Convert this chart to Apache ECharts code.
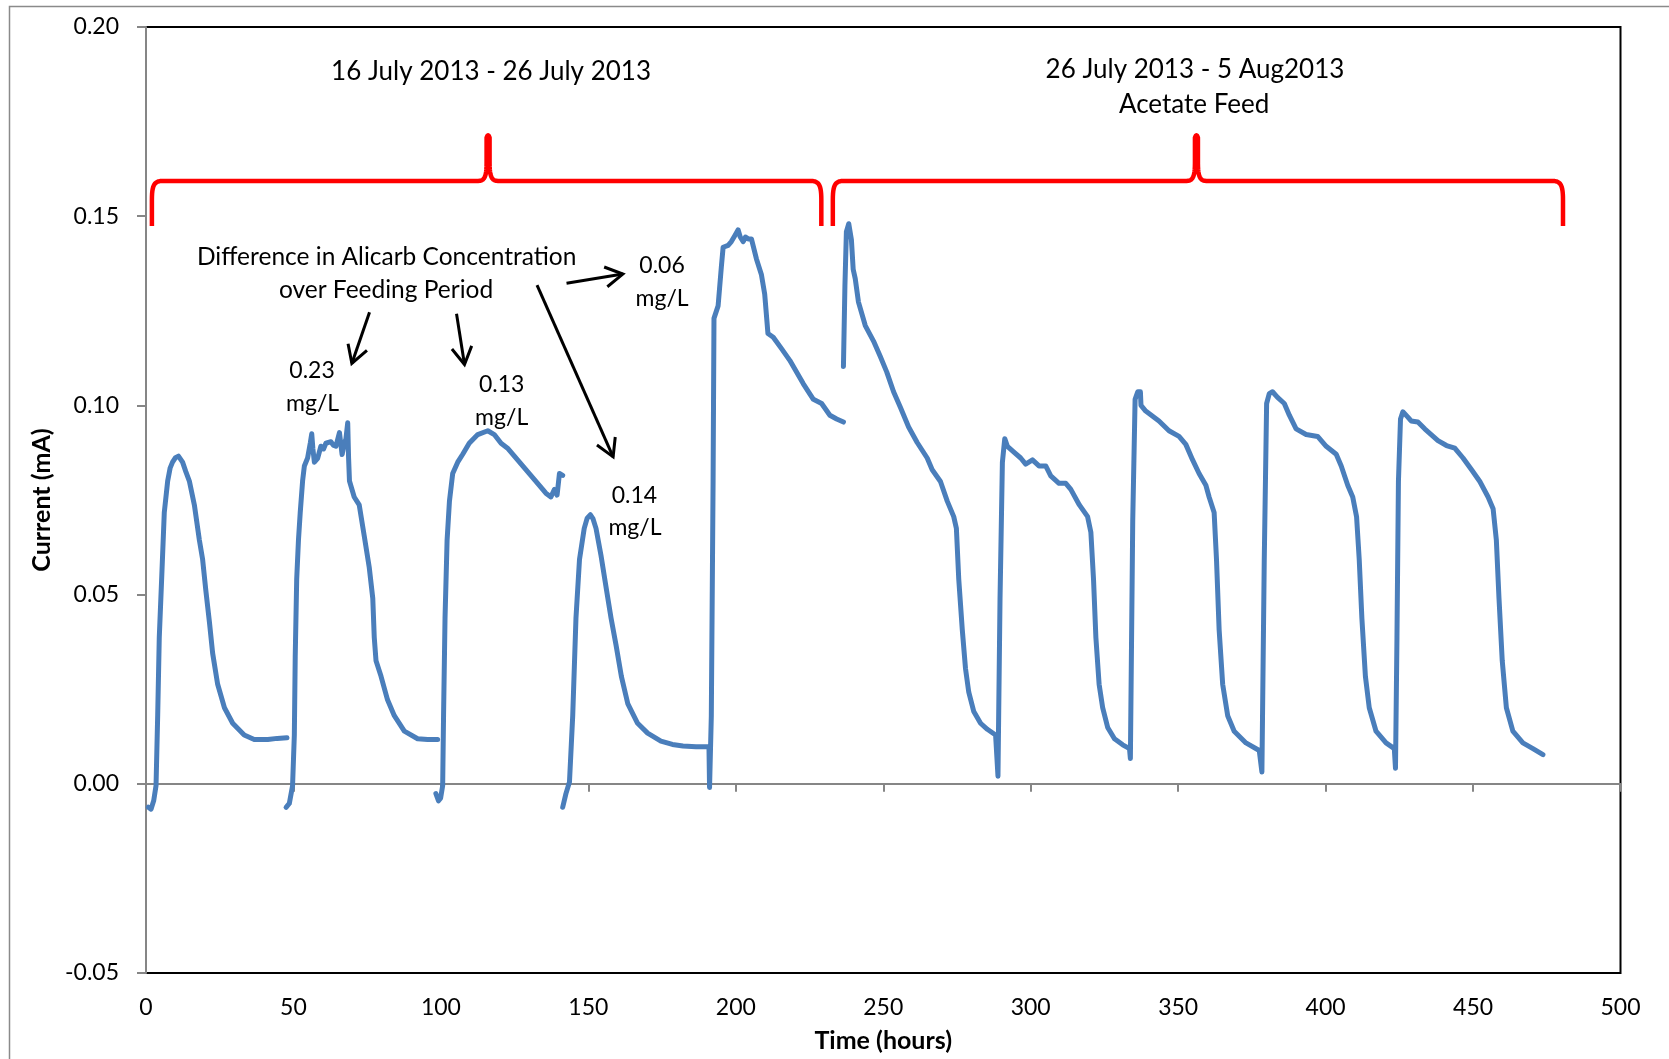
<!DOCTYPE html>
<html>
<head>
<meta charset="utf-8">
<script src="https://cdn.jsdelivr.net/npm/echarts@6/dist/echarts.min.js"></script>
<style>
  html, body { margin: 0; padding: 0; background: #fff; }
  #chart { width: 1669px; height: 1059px; }
</style>
</head>
<body>
<div id="chart"></div>
<script>
// Current (mA) against time (hours); one array per continuous logging run.
const run1 = [[0.8,-0.0062],[1.7,-0.0067],[2.6,-0.0045],[3.4,-0.0005],[3.96,0.018],[4.5,0.0387],[5.3,0.054],[6.2,0.0717],[7.35,0.080],[8.2,0.0835],[9.0,0.085],[10.0,0.0862],[11.0,0.0866],[12.4,0.085],[13.5,0.0825],[14.7,0.080],[16.4,0.0737],[18.1,0.0644],[19.2,0.0593],[20.3,0.051],[21.5,0.0428],[22.6,0.0345],[24.3,0.0263],[26.6,0.0201],[29.4,0.016],[33.3,0.0129],[36.7,0.0117],[41.3,0.0117],[44.5,0.0120],[47.8,0.0122]];

const run2 = [[47.5,-0.0062],[48.6,-0.0052],[49.7,-0.0005],[50.3,0.0129],[50.6,0.0335],[51.1,0.054],[51.7,0.0644],[52.3,0.0717],[53.1,0.080],[53.7,0.084],[54.8,0.0861],[55.7,0.090],[56.2,0.0925],[56.6,0.0885],[57.1,0.085],[58.2,0.086],[59.3,0.0892],[60.2,0.0885],[61.0,0.090],[62.7,0.0904],[63.5,0.0895],[64.4,0.0892],[65.6,0.0928],[66.5,0.087],[67.3,0.090],[67.8,0.0912],[68.4,0.0954],[68.7,0.086],[69.0,0.080],[70.6,0.0758],[72.3,0.0737],[74.0,0.0655],[75.7,0.0572],[76.9,0.049],[77.4,0.0387],[78.0,0.0325],[79.7,0.0284],[81.9,0.0222],[84.2,0.018],[87.6,0.0139],[92.1,0.0119],[95.5,0.0117],[98.9,0.0117]];

const run3 = [[98.3,-0.0026],[99.2,-0.0045],[99.9,-0.0038],[100.6,-0.0005],[100.9,0.018],[101.4,0.0438],[102.1,0.0644],[102.9,0.0747],[104.0,0.082],[105.7,0.085],[107.4,0.0871],[109.6,0.090],[112.5,0.0923],[115.9,0.0933],[118.1,0.0923],[120.4,0.090],[122.6,0.0887],[126.0,0.0856],[129.4,0.0825],[132.8,0.0794],[135.6,0.0768],[137.3,0.0758],[138.5,0.0778],[139.4,0.0763],[140.2,0.082],[141.3,0.0815]];

const run4 = [[141.3,-0.0062],[142.4,-0.0026],[143.6,0.0005],[144.7,0.018],[145.8,0.0438],[147.0,0.0593],[148.6,0.0675],[149.6,0.0702],[150.7,0.0711],[151.6,0.070],[152.6,0.0675],[154.3,0.0603],[156.0,0.052],[157.7,0.0438],[159.4,0.0366],[161.2,0.0284],[163.4,0.0211],[166.7,0.016],[170.1,0.0134],[174.6,0.0113],[178.5,0.0104],[182.1,0.010],[186.5,0.0098],[190.9,0.0098],[191.1,-0.001],[191.7,0.018],[192.3,0.080],[192.6,0.123],[194.0,0.1263],[195.1,0.1366],[195.7,0.1418],[197.4,0.1423],[198.5,0.1433],[199.7,0.1449],[200.8,0.1464],[201.5,0.1445],[202.5,0.1433],[203.3,0.1445],[204.2,0.144],[205.3,0.144],[207.0,0.1387],[208.7,0.1345],[209.8,0.1294],[210.9,0.119],[212.7,0.118],[215.5,0.115],[218.3,0.1119],[220.6,0.1088],[222.9,0.1057],[226.3,0.1016],[229.1,0.1005],[231.9,0.0974],[234.2,0.0964],[236.5,0.0956]];

const run5 = [[236.5,0.1103],[237.0,0.1315],[237.5,0.1459],[238.3,0.148],[239.2,0.1438],[239.8,0.136],[240.5,0.1335],[241.6,0.1273],[243.9,0.1211],[246.7,0.117],[249.0,0.1129],[251.2,0.1088],[253.5,0.1036],[255.8,0.0995],[258.6,0.0943],[261.5,0.0902],[264.9,0.0861],[266.6,0.083],[269.4,0.0799],[271.7,0.0747],[273.9,0.0706],[274.8,0.0675],[275.6,0.0541],[276.8,0.0407],[277.9,0.0304],[279.0,0.0242],[280.7,0.0191],[283.0,0.016],[285.3,0.0144],[288.1,0.0129],
  [288.9,0.002],[289.6,0.049],[290.4,0.085],[291.2,0.0912],[292.1,0.0892],[294.4,0.0876],[296.6,0.0861],[298.3,0.0845],[300.6,0.0856],[302.8,0.084],[305.1,0.084],[306.8,0.0814],[309.6,0.0794],[311.9,0.0794],[313.6,0.0778],[316.5,0.0737],[319.3,0.0706],[320.4,0.0665],[321.3,0.0541],[322.1,0.0387],[323.2,0.0263],[324.4,0.0201],[326.1,0.0149],[328.4,0.0119],[331.2,0.0103],[333.5,0.0093],
  [333.8,0.0067],[334.6,0.0696],[335.4,0.1016],[336.3,0.1036],[337.2,0.1036],[337.4,0.100],[339.0,0.0985],[343.5,0.0959],[346.9,0.0933],[350.3,0.0918],[352.6,0.0897],[354.9,0.0856],[357.1,0.082],[359.4,0.0789],[360.5,0.0758],[362.2,0.0717],[363.0,0.0593],[363.9,0.0407],[365.1,0.0263],[366.8,0.018],[369.0,0.0139],[373.0,0.0108],[377.5,0.0088],
  [378.4,0.0031],[379.2,0.0593],[380.0,0.1005],[380.9,0.1031],[382.0,0.1036],[383.7,0.1021],[386.0,0.1005],[387.7,0.0974],[390.0,0.0938],[393.4,0.0923],[397.3,0.0918],[400.2,0.0892],[403.6,0.0871],[405.3,0.084],[407.5,0.0789],[409.2,0.0758],[410.5,0.0706],[411.4,0.0593],[412.3,0.0438],[413.5,0.0284],[414.8,0.0201],[417.1,0.0139],[420.5,0.0108],[423.3,0.0093],
  [423.7,0.0041],[424.2,0.0387],[424.7,0.080],[425.4,0.0964],[426.2,0.0983],[427.9,0.0969],[429.0,0.0959],[431.3,0.0956],[433.6,0.0938],[435.8,0.0923],[438.1,0.0907],[441.0,0.0894],[443.8,0.0887],[446.6,0.0861],[449.5,0.083],[452.3,0.0799],[455.1,0.0758],[456.8,0.0727],[457.9,0.0644],[458.8,0.049],[459.9,0.0325],[461.3,0.0201],[463.5,0.0139],[466.9,0.0108],[470.3,0.0093],[473.7,0.0077]];

// Feeding-period annotations, placed in data units (hours, mA)
const periodLabels = [
  { text: '16 July 2013 - 26 July 2013', x: 117.0, y: 0.1881 },
  { text: '26 July 2013 - 5 Aug2013',   x: 355.7, y: 0.1887 },
  { text: 'Acetate Feed',               x: 355.4, y: 0.1794 }
];
const noteLines = [
  { text: 'Difference in Alicarb Concentration', x: 81.6, y: 0.1391 },
  { text: 'over Feeding Period', x: 81.4, y: 0.1305 }
];
const concLabels = [
  { text: '0.23', x: 56.3, y: 0.1093 }, { text: 'mg/L', x: 56.5, y: 0.1005 },
  { text: '0.13', x: 120.6, y: 0.1056 }, { text: 'mg/L', x: 120.6, y: 0.0968 },
  { text: '0.14', x: 165.6, y: 0.0763 }, { text: 'mg/L', x: 165.8, y: 0.0676 },
  { text: '0.06', x: 175.0, y: 0.1369 }, { text: 'mg/L', x: 175.0, y: 0.1282 }
];
// Arrows: [fromX, fromY, toX, toY]
const arrows = [
  [75.8, 0.1246, 69.8, 0.1111],
  [105.3, 0.1242, 108.0, 0.1108],
  [132.6, 0.1318, 158.4, 0.0864],
  [142.6, 0.1323, 161.7, 0.1347]
];
// Curly braces: [left, tip, right] in hours
const braces = [
  [2.0, 116.0, 229.0],
  [232.9, 356.2, 480.5]
];
const braceLevels = { line: 0.1593, ends: 0.1474, tip: 0.1715 };

const FONT = 'Lato';
const BLUE = '#4a7ebb';
const AXIS_GREY = '#868686';

const chart = echarts.init(document.getElementById('chart'), null, { renderer: 'canvas' });

const runs = [run1, run2, run3, run4, run5];

chart.setOption({
  animation: false,
  backgroundColor: '#ffffff',
  grid: {
    left: 146, right: 48.5, top: 27, bottom: 86,
    show: true, borderColor: '#000', borderWidth: 2, backgroundColor: 'transparent'
  },
  xAxis: [
    {
      type: 'value', min: 0, max: 500, interval: 50, position: 'bottom',
      axisLine: { show: false, onZero: false },
      axisTick: { show: false },
      splitLine: { show: false },
      axisLabel: { margin: 23, fontSize: 23, color: '#000', fontFamily: FONT },
      name: 'Time (hours)', nameLocation: 'middle', nameGap: 55,
      nameTextStyle: { fontSize: 25, fontWeight: 'bold', color: '#000', fontFamily: FONT }
    },
    {
      type: 'value', min: 0, max: 500, interval: 50, position: 'bottom',
      axisLine: { show: true, onZero: true, lineStyle: { color: AXIS_GREY, width: 2 } },
      axisTick: { show: true, inside: false, length: 8, lineStyle: { color: AXIS_GREY, width: 2 } },
      axisLabel: { show: false },
      splitLine: { show: false }
    }
  ],
  yAxis: {
    type: 'value', min: -0.05, max: 0.2, interval: 0.05,
    axisLine: { show: true, onZero: false, lineStyle: { color: AXIS_GREY, width: 2 } },
    axisTick: { show: true, length: 9, lineStyle: { color: AXIS_GREY, width: 2 } },
    splitLine: { show: false },
    axisLabel: {
      margin: 27, fontSize: 23, color: '#000', fontFamily: FONT,
      formatter: v => v.toFixed(2)
    },
    name: 'Current (mA)', nameLocation: 'middle', nameGap: 91,
    nameTextStyle: { fontSize: 25, fontWeight: 'bold', color: '#000', fontFamily: FONT }
  },
  series: runs.map((run, i) => ({
    name: 'run' + (i + 1),
    type: 'line',
    xAxisIndex: 0, yAxisIndex: 0,
    data: run,
    showSymbol: false,
    smooth: false,
    z: 3,
    lineStyle: { color: BLUE, width: 5, cap: 'round', join: 'round' }
  }))
});

// Annotation layer, positioned through the chart's own coordinate system
const px = (x, y) => chart.convertToPixel({ xAxisIndex: 0, yAxisIndex: 0 }, [x, y]);
const graphics = [];

// outer chart frame
graphics.push({
  type: 'rect', z: 0, silent: true,
  shape: { x: 9.5, y: 6.5, width: 1800, height: 1200 },
  style: { fill: 'none', stroke: '#8a8a8a', lineWidth: 1.5 }
});

function addText(l, size) {
  const p = px(l.x, l.y);
  graphics.push({
    type: 'text', x: p[0], y: p[1], z: 10, silent: true,
    style: { text: l.text, fill: '#000', font: size + 'px Lato', align: 'center', verticalAlign: 'middle' }
  });
}
periodLabels.forEach(l => addText(l, 26));
noteLines.forEach(l => addText(l, 24.5));
concLabels.forEach(l => addText(l, 23));

arrows.forEach(a => {
  const p0 = px(a[0], a[1]);
  const p1 = px(a[2], a[3]);
  const ang = Math.atan2(p0[1] - p1[1], p0[0] - p1[0]);
  const len = 20, spread = Math.PI / 6;
  const w1 = [p1[0] + len * Math.cos(ang + spread), p1[1] + len * Math.sin(ang + spread)];
  const w2 = [p1[0] + len * Math.cos(ang - spread), p1[1] + len * Math.sin(ang - spread)];
  graphics.push({
    type: 'line', z: 10, silent: true,
    shape: { x1: p0[0], y1: p0[1], x2: p1[0], y2: p1[1] },
    style: { stroke: '#000', lineWidth: 3 }
  });
  graphics.push({
    type: 'polyline', z: 10, silent: true,
    shape: { points: [w1, p1, w2] },
    style: { stroke: '#000', lineWidth: 3, fill: 'none', lineJoin: 'miter' }
  });
});

// Brace outline: straight runs joined by cubic/quadratic bends, flattened to points
function bracePoints(L, M, R, yH, yB, yP) {
  const pts = [[L, yB], [L, yH + 19]];
  const cubic = (p0, p1, p2, p3) => {
    for (let i = 1; i <= 12; i++) {
      const t = i / 12, u = 1 - t;
      pts.push([
        u * u * u * p0[0] + 3 * u * u * t * p1[0] + 3 * u * t * t * p2[0] + t * t * t * p3[0],
        u * u * u * p0[1] + 3 * u * u * t * p1[1] + 3 * u * t * t * p2[1] + t * t * t * p3[1]
      ]);
    }
  };
  const quad = (p0, p1, p2) => {
    for (let i = 1; i <= 8; i++) {
      const t = i / 8, u = 1 - t;
      pts.push([
        u * u * p0[0] + 2 * u * t * p1[0] + t * t * p2[0],
        u * u * p0[1] + 2 * u * t * p1[1] + t * t * p2[1]
      ]);
    }
  };
  cubic([L, yH + 19], [L, yH + 5], [L + 2, yH], [L + 10, yH]);
  pts.push([M - 10, yH]);
  cubic([M - 10, yH], [M - 2, yH], [M - 1.5, yH - 8], [M - 1.5, yH - 20]);
  pts.push([M - 1.5, yP + 3]);
  quad([M - 1.5, yP + 3], [M, yP - 2], [M + 1.5, yP + 3]);
  pts.push([M + 1.5, yH - 20]);
  cubic([M + 1.5, yH - 20], [M + 1.5, yH - 8], [M + 2, yH], [M + 10, yH]);
  pts.push([R - 10, yH]);
  cubic([R - 10, yH], [R - 2, yH], [R, yH + 5], [R, yH + 19]);
  pts.push([R, yB]);
  return pts;
}
braces.forEach(b => {
  const yH = px(0, braceLevels.line)[1];
  const yB = px(0, braceLevels.ends)[1];
  const yP = px(0, braceLevels.tip)[1];
  const L = px(b[0], 0)[0], M = px(b[1], 0)[0], R = px(b[2], 0)[0];
  graphics.push({
    type: 'polyline', z: 10, silent: true,
    shape: { points: bracePoints(L, M, R, yH, yB, yP) },
    style: { fill: 'none', stroke: '#ff0000', lineWidth: 4.5, lineJoin: 'round', lineCap: 'butt' }
  });
});

chart.setOption({ graphic: graphics });
</script>
</body>
</html>
